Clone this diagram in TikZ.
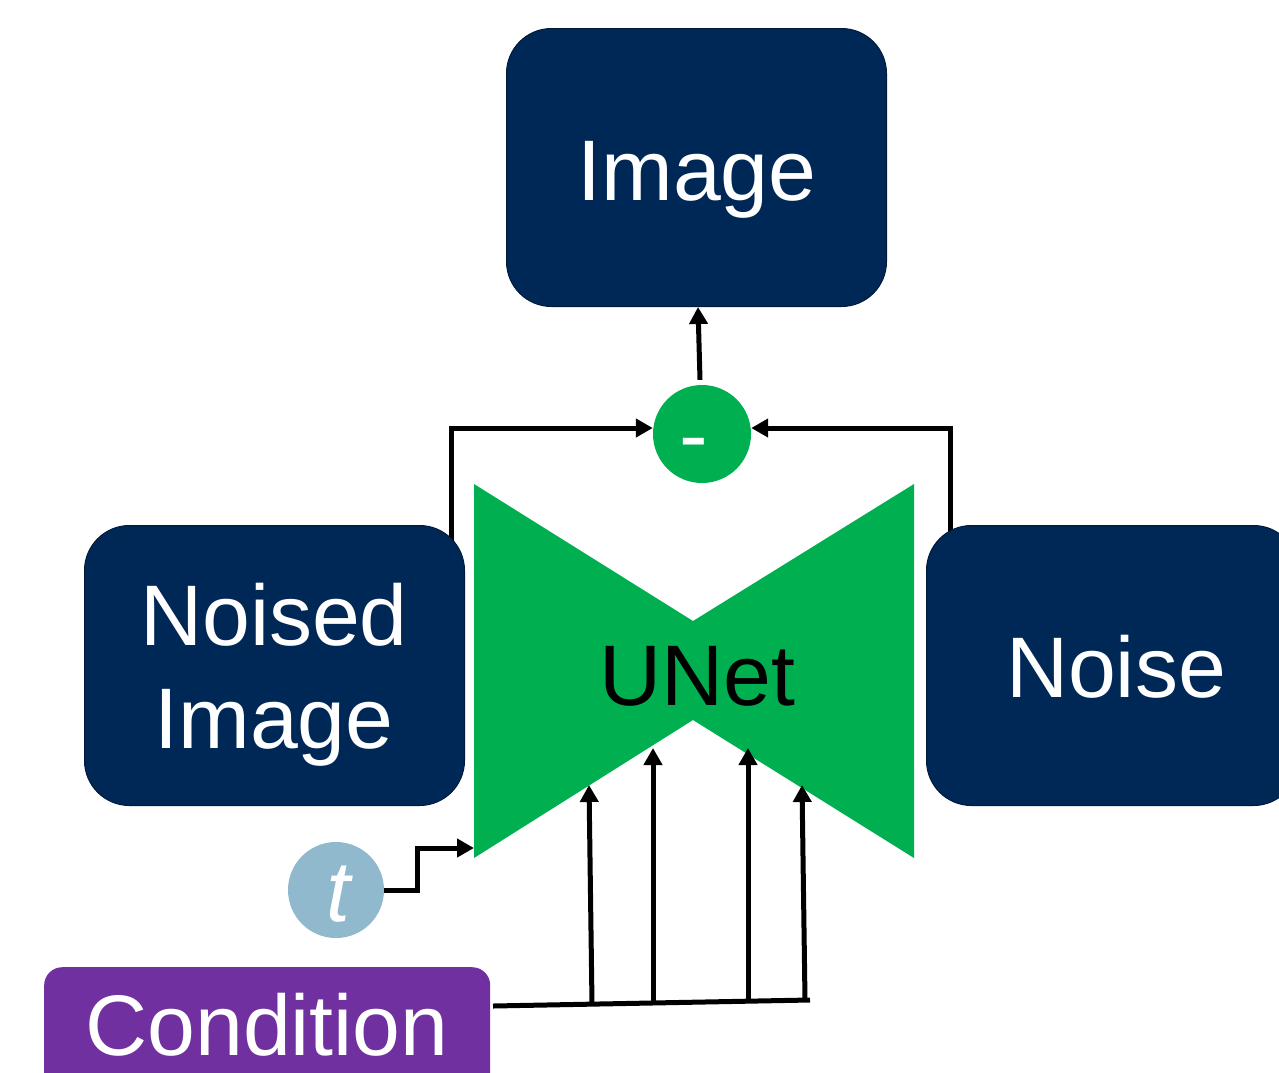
\documentclass[tikz,border=0pt]{standalone}
\usepackage{fontspec}
\setmainfont{Liberation Sans}
\usetikzlibrary{arrows.meta,backgrounds}
\definecolor{navy}{HTML}{002856}
\definecolor{navyedge}{HTML}{001A3A}
\definecolor{unetgreen}{HTML}{00B050}
\definecolor{tblue}{HTML}{91B9CD}
\definecolor{condpurple}{HTML}{7030A0}
\tikzset{
  box/.style={draw=navyedge, line width=1pt, fill=navy, rounded corners=45pt,
    inner sep=0pt, anchor=north west},
  big/.style={font=\fontsize{86}{103}\selectfont, inner sep=0pt, anchor=base},
  wire/.style={line width=5pt, draw=black},
  arr/.style={wire, -{Triangle[length=17pt,width=18pt]}},
}
\begin{document}
\begin{tikzpicture}[x=1pt, y=-1pt]
\useasboundingbox (0,0) rectangle (1279,1072);

% blocks
\node[box, minimum width=380pt, minimum height=278pt] (image) at (506,28) {};
\node[box, minimum width=380pt, minimum height=280pt] (noised) at (84,525) {};
\node[box, minimum width=372pt, minimum height=280pt] (noise) at (926,525) {};
\node[fill=condpurple, rounded corners=18pt, inner sep=0pt, anchor=north west,
      minimum width=446pt, minimum height=140pt] (cond) at (44,967) {};

% UNet bow-tie
\coordinate (utl) at (474,484);
\coordinate (utm) at (693,621);
\coordinate (utr) at (914,484);
\coordinate (ubr) at (914,858);
\coordinate (ubm) at (693,720);
\coordinate (ubl) at (474,858);
\fill[unetgreen] (utl) -- (utm) -- (utr) -- (ubr) -- (ubm) -- (ubl) -- cycle;

% subtraction and time-step circles
\node[circle, fill=unetgreen, minimum size=98pt, inner sep=0pt] (minus) at (702,434) {};
\node[circle, fill=tblue, minimum size=96pt, inner sep=0pt] (tnode) at (336,890) {};

% labels
\node[big, text=white] (imageT) at (697,200) {Image};
\node[big, text=white] (noisedT1) at (274,645) {Noised};
\node[big, text=white] (noisedT2) at (274,748) {Image};
\node[big, text=white] (noiseT) at (1116,697) {Noise};
\node[big, text=black] (unetT) at (697,705) {UNet};
\node[big, text=white] (condT) at (267,1055) {Condition};
\node[big, text=white] (tT) at (338,921) {\itshape t};
\node[big, text=white] (minusT) at (694,464) {-};

% inputs of the subtraction
\coordinate (minL) at ([yshift=6pt]minus.west);
\coordinate (minR) at ([yshift=6pt]minus.east);
\begin{scope}[on background layer]
  \draw[arr] ([xshift=-14pt, yshift=-20pt]noised.north east) |- (minL);
  \draw[arr] ([xshift=24pt, yshift=-20pt]noise.north west) |- (minR);
\end{scope}
\draw[arr] ([xshift=-2pt, yshift=5pt]minus.north) -- ([xshift=-4pt]image.south -| minus.north);

% time step into UNet
\coordinate (tin) at (474,848);
\draw[arr] (tnode.east) -- ++(33,0) |- (tin);

% condition bus with four taps
\coordinate (busL) at (493,1006);
\coordinate (busR) at (810,1000);
\draw[wire] (busL) -- (busR);
\coordinate (c1) at (592,1004);
\coordinate (c2) at (653,1002);
\coordinate (c3) at (748,1001);
\coordinate (c4) at (805,1000);
\coordinate (d1) at (589,785);
\coordinate (d2) at (653,748);
\coordinate (d3) at (748,748);
\coordinate (d4) at (802,785);
\draw[arr] (c1) -- (d1);
\draw[arr] (c2) -- (d2);
\draw[arr] (c3) -- (d3);
\draw[arr] (c4) -- (d4);
\end{tikzpicture}
\end{document}
